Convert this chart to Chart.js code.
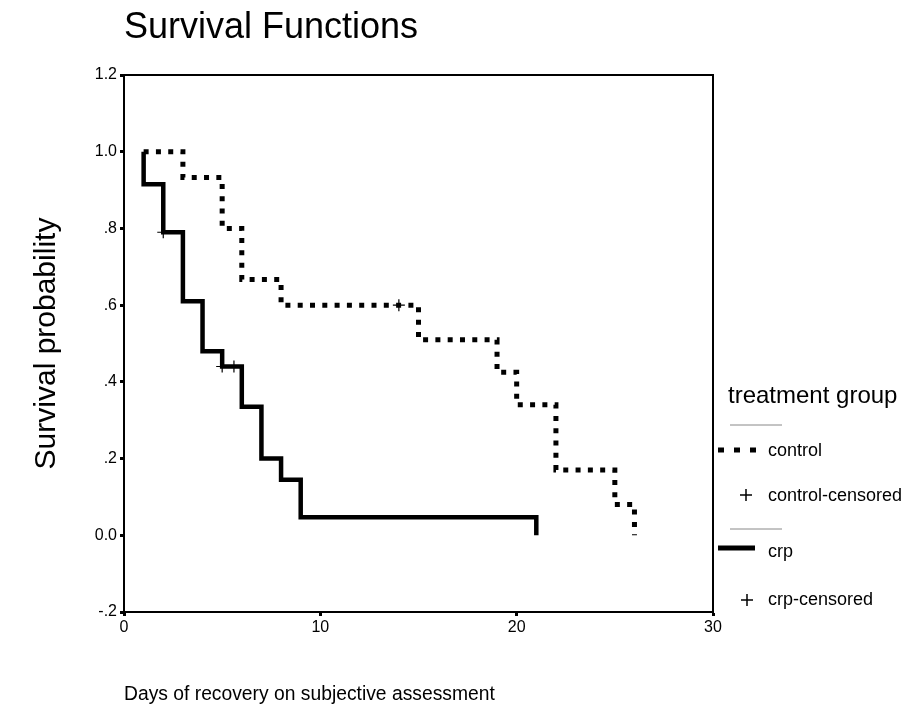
<!DOCTYPE html>
<html>
<head>
<meta charset="utf-8">
<script src="https://cdn.jsdelivr.net/npm/chart.js@4.4.1/dist/chart.umd.min.js"></script>
<style>
  html, body { margin: 0; padding: 0; background: #fff; }
  #wrap { width: 910px; height: 707px; position: relative; }
</style>
</head>
<body>
<div id="wrap"><canvas id="km"></canvas></div>
<script>
/* Kaplan-Meier curves */
const controlDays = [1, 3, 5, 6, 8, 15, 19, 20, 22, 25, 26];
const controlSurv = [1.0, 0.933, 0.8, 0.667, 0.6, 0.51, 0.425, 0.34, 0.17, 0.08, 0.0];
const crpDays = [1, 1, 2, 3, 4, 5, 6, 7, 8, 9, 21];
const crpSurv = [1.0, 0.915, 0.79, 0.61, 0.48, 0.44, 0.335, 0.2, 0.145, 0.047, 0.0];

// censored observations
const controlCensDays = [14];
const controlCensSurv = [0.6];
const crpCensDays = [2, 5, 5.6];
const crpCensSurv = [0.79, 0.44, 0.44];

const xTickValues = [0, 10, 20, 30];
const xTickLabels = ["0", "10", "20", "30"];
const yTickValues = [-0.2, 0, 0.2, 0.4, 0.6, 0.8, 1.0, 1.2];
const yTickLabels = ["-.2", "0.0", ".2", ".4", ".6", ".8", "1.0", "1.2"];

const FONT = "'Liberation Sans', Arial, Helvetica, sans-serif";
Chart.defaults.font.family = FONT;
Chart.defaults.color = "#000";

const pts = (xs, ys) => xs.map((x, i) => ({x, y: ys[i]}));

// box round the plot
const framePlugin = {
  id: "frame",
  afterDatasetsDraw(chart){
    const {ctx, chartArea:a} = chart;
    ctx.save();
    ctx.strokeStyle = "#000";
    ctx.lineWidth = 2;
    ctx.beginPath();
    ctx.moveTo(a.left, a.top);
    ctx.lineTo(a.right, a.top);
    ctx.lineTo(a.right, a.bottom);
    ctx.stroke();
    ctx.restore();
  }
};

// SPSS style legend on the right
const sideLegend = {
  id: "sideLegend",
  afterDraw(chart){
    const ctx = chart.ctx;
    const ds = chart.data.datasets;
    ctx.save();
    ctx.fillStyle = "#000";
    ctx.textBaseline = "middle";
    ctx.textAlign = "left";
    ctx.font = "24px " + FONT;
    ctx.fillText("treatment group", 728, 396);

    const thin = (y) => {
      ctx.save();
      ctx.strokeStyle = "#888";
      ctx.lineWidth = 1;
      ctx.beginPath(); ctx.moveTo(730, y); ctx.lineTo(782, y); ctx.stroke();
      ctx.restore();
    };
    const cross = (x, y) => {
      ctx.save();
      ctx.strokeStyle = "#000";
      ctx.lineWidth = 1.5;
      ctx.beginPath();
      ctx.moveTo(x - 6, y); ctx.lineTo(x + 6, y);
      ctx.moveTo(x, y - 6); ctx.lineTo(x, y + 6);
      ctx.stroke();
      ctx.restore();
    };

    ctx.font = "18px " + FONT;
    thin(425);
    ctx.save();
    ctx.strokeStyle = "#000";
    ctx.lineWidth = 5;
    ctx.setLineDash([6, 10]);
    ctx.beginPath(); ctx.moveTo(718, 450); ctx.lineTo(764, 450); ctx.stroke();
    ctx.restore();
    ctx.fillText(ds[0].label, 768, 451);
    cross(746, 495);
    ctx.fillText(ds[2].label, 768, 496);

    thin(529);
    ctx.save();
    ctx.strokeStyle = "#000";
    ctx.lineWidth = 5;
    ctx.beginPath(); ctx.moveTo(718, 548); ctx.lineTo(755, 548); ctx.stroke();
    ctx.restore();
    ctx.fillText(ds[1].label, 768, 552);
    cross(747, 600);
    ctx.fillText(ds[3].label, 768, 600);
    ctx.restore();
  }
};

new Chart(document.getElementById("km"), {
  type: "line",
  data: {
    datasets: [
      {
        label: "control",
        data: pts(controlDays, controlSurv),
        stepped: "before",
        borderColor: "#000",
        borderWidth: 5,
        borderDash: [5, 7.3],
        borderCapStyle: "butt",
        pointRadius: 0,
        fill: false
      },
      {
        label: "crp",
        data: pts(crpDays, crpSurv),
        stepped: "before",
        borderColor: "#000",
        borderWidth: 4.5,
        borderJoinStyle: "miter",
        pointRadius: 0,
        fill: false
      },
      {
        label: "control-censored",
        data: pts(controlCensDays, controlCensSurv),
        showLine: false,
        pointStyle: "cross",
        pointRadius: 6,
        borderColor: "#000",
        borderWidth: 1.2
      },
      {
        label: "crp-censored",
        data: pts(crpCensDays, crpCensSurv),
        showLine: false,
        pointStyle: "cross",
        pointRadius: 6,
        borderColor: "#000",
        borderWidth: 1.2
      }
    ]
  },
  options: {
    responsive: true,
    maintainAspectRatio: false,
    animation: false,
    layout: { padding: { left: 0, right: 197, top: 0, bottom: 0 } },
    plugins: {
      legend: { display: false },
      tooltip: { enabled: false },
      title: {
        display: true,
        text: "Survival Functions",
        align: "start",
        fullSize: false,
        color: "#000",
        font: { size: 36, weight: "normal" },
        padding: { top: 6, bottom: 25.8 }
      }
    },
    scales: {
      x: {
        type: "linear",
        min: 0,
        max: 30,
        afterBuildTicks: (s) => { s.ticks = xTickValues.map(v => ({value: v})); },
        afterFit: (s) => { s.height = 95; },
        ticks: {
          font: { size: 16 },
          color: "#000",
          padding: 2,
          maxRotation: 0,
          callback: (v, i) => xTickLabels[i]
        },
        grid: { drawOnChartArea: false, drawTicks: true, tickLength: 4, tickWidth: 3, tickColor: "#000" },
        border: { display: true, color: "#000", width: 2 },
        title: {
          display: true,
          text: "Days of recovery on subjective assessment",
          align: "start",
          color: "#000",
          font: { size: 19.3 },
          padding: { top: 0, bottom: 1 }
        }
      },
      y: {
        type: "linear",
        min: -0.2,
        max: 1.2,
        afterBuildTicks: (s) => { s.ticks = yTickValues.map(v => ({value: v})); },
        afterFit: (s) => { s.width = 124; },
        ticks: {
          font: { size: 16 },
          color: "#000",
          padding: 3,
          callback: (v, i) => yTickLabels[i]
        },
        grid: { drawOnChartArea: false, drawTicks: true, tickLength: 4, tickWidth: 3, tickColor: "#000" },
        border: { display: true, color: "#000", width: 2 },
        title: {
          display: true,
          text: "Survival probability",
          color: "#000",
          font: { size: 30 },
          padding: { top: 29, bottom: 0 }
        }
      }
    }
  },
  plugins: [framePlugin, sideLegend]
});
</script>
</body>
</html>
